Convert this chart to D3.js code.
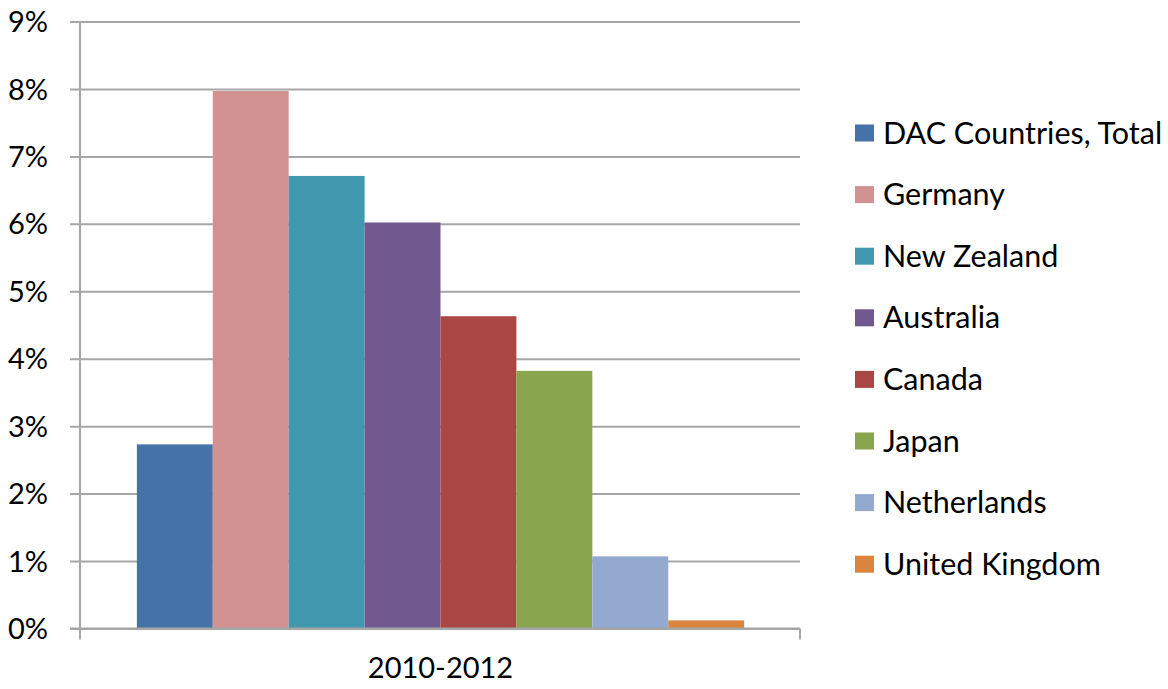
<!DOCTYPE html>
<html>
<head>
<meta charset="utf-8">
<script src="https://cdn.jsdelivr.net/npm/d3@7"></script>
<style>
  html, body { margin: 0; padding: 0; background: #fff; }
  svg { display: block; }
  text { font-family: Lato, "Open Sans", sans-serif; fill: #000; }
</style>
</head>
<body>
<svg id="chart" width="1168" height="689"></svg>
<script>
const categories = ["2010-2012"];
const seriesNames = ["DAC Countries, Total", "Germany", "New Zealand", "Australia", "Canada", "Japan", "Netherlands", "United Kingdom"];
const seriesValues = [2.73, 7.97, 6.71, 6.02, 4.63, 3.82, 1.07, 0.12];
const seriesColors = ["#4572A7", "#D29292", "#4198AF", "#71588F", "#AA4643", "#89A54E", "#93A9CF", "#DB843D"];
const yTicks = [0, 1, 2, 3, 4, 5, 6, 7, 8, 9];

const svg = d3.select("#chart");
const plot = { left: 80, right: 800, top: 21.5, bottom: 628.5 };
const tickFont = 29;
const legendFont = 30.5;

const y = d3.scaleLinear().domain([0, 9]).range([plot.bottom, plot.top]);
const x0 = d3.scaleBand().domain(categories).range([plot.left + 1, plot.right]).paddingInner(0).paddingOuter(0.092);
const x1 = d3.scaleBand().domain(seriesNames).range([0, x0.bandwidth()]).padding(0);

// gridlines + y labels
const yAxis = d3.axisLeft(y)
  .tickValues(yTicks)
  .tickSize(-(plot.right - (plot.left - 10)))
  .tickPadding(22)
  .tickFormat(d => d + "%");
const gy = svg.append("g").attr("transform", `translate(${plot.left - 10},0)`).call(yAxis);
gy.select(".domain").remove();
gy.selectAll(".tick line").attr("stroke", "#A6A6A6").attr("stroke-width", 2);
gy.selectAll(".tick text").attr("font-size", tickFont).attr("font-family", "Lato, 'Open Sans', sans-serif").attr("fill", "#000").attr("dy", "0.35em");

// bars
const g = svg.append("g");
categories.forEach(cat => {
  g.selectAll("rect.bar")
    .data(seriesNames.map((n, i) => ({ name: n, value: seriesValues[i], color: seriesColors[i] })))
    .enter().append("rect")
    .attr("class", "bar")
    .attr("x", d => x0(cat) + x1(d.name))
    .attr("width", x1.bandwidth())
    .attr("y", d => y(d.value))
    .attr("height", d => y(0) - y(d.value))
    .attr("fill", d => d.color);
});

// axes lines
svg.append("line").attr("x1", plot.left).attr("x2", plot.left).attr("y1", plot.top).attr("y2", plot.bottom + 11)
  .attr("stroke", "#A6A6A6").attr("stroke-width", 2);
svg.append("line").attr("x1", plot.left - 10).attr("x2", plot.right).attr("y1", plot.bottom).attr("y2", plot.bottom)
  .attr("stroke", "#A6A6A6").attr("stroke-width", 2);
svg.append("line").attr("x1", plot.right).attr("x2", plot.right).attr("y1", plot.bottom).attr("y2", plot.bottom + 11)
  .attr("stroke", "#A6A6A6").attr("stroke-width", 2);

// category label
svg.selectAll("text.cat").data(categories).enter().append("text")
  .attr("class", "cat")
  .attr("x", d => x0(d) + x0.bandwidth() / 2)
  .attr("y", 668)
  .attr("dy", "0.35em")
  .attr("text-anchor", "middle")
  .attr("font-size", tickFont)
  .text(d => d);

// legend
const legend = svg.append("g").attr("transform", "translate(855,133)");
const items = legend.selectAll("g").data(seriesNames).enter().append("g")
  .attr("transform", (d, i) => `translate(0,${i * 61.6})`);
items.append("rect").attr("x", 0).attr("y", -8.5).attr("width", 19).attr("height", 17)
  .attr("fill", (d, i) => seriesColors[i]);
items.append("text").attr("x", 28).attr("y", 0).attr("dy", "0.35em")
  .attr("font-size", legendFont).text(d => d);
</script>
</body>
</html>
